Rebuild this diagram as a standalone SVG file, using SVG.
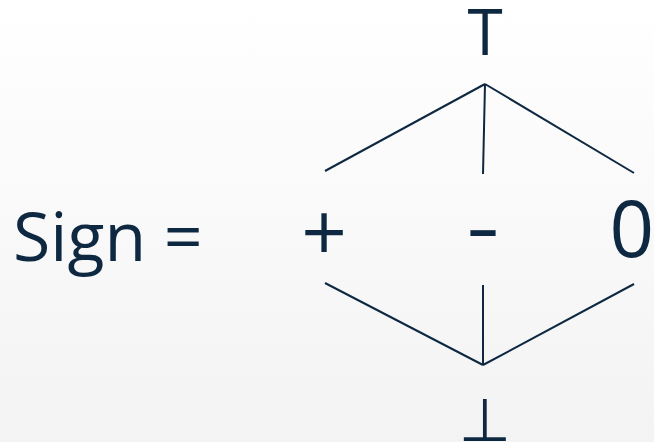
<svg xmlns="http://www.w3.org/2000/svg" width="654" height="442" viewBox="0 0 654 442">
<defs>
<linearGradient id="bg" x1="0" y1="0" x2="0" y2="1">
<stop offset="0" stop-color="#ffffff"/>
<stop offset="1" stop-color="#f3f3f3"/>
</linearGradient>
<style>
.t{font-family:"Open Sans","Liberation Sans",sans-serif;fill:#0e2841;}
.e{stroke:#0e2841;stroke-width:2;fill:none;stroke-linecap:butt;}
</style>
</defs>
<rect width="654" height="442" fill="url(#bg)"/>
<g id="label"><text class="t" x="13" y="261" font-size="68">Sign =</text></g>
<g id="top"><text class="t" x="485" y="55" font-size="64" text-anchor="middle">T</text></g>
<g id="plus"><text class="t" x="324" y="261" font-size="80" text-anchor="middle">+</text></g>
<g id="minus"><text class="t" transform="translate(483,0) scale(0.75,1)" x="0" y="255" font-size="80" text-anchor="middle">–</text></g>
<g id="zero"><text class="t" x="654" y="257" font-size="78" text-anchor="end">0</text></g>
<g id="bottom"><text x="485" y="441" font-size="60" text-anchor="middle" style="font-family:'DejaVu Sans',sans-serif;fill:#0e2841">⊥</text></g>
<g id="connectors">
<line class="e" x1="485" y1="84" x2="325" y2="171"/>
<line class="e" x1="485" y1="84" x2="483" y2="174"/>
<line class="e" x1="485" y1="84" x2="634" y2="173"/>
<line class="e" x1="325" y1="283" x2="483" y2="365"/>
<line class="e" x1="483" y1="285" x2="483" y2="365"/>
<line class="e" x1="634" y1="284" x2="483" y2="365"/>
</g>
</svg>
